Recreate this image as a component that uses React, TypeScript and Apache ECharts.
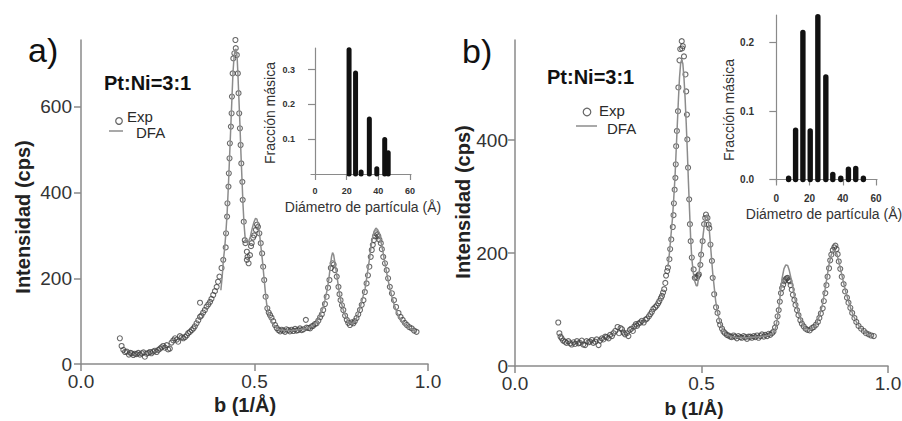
import React, { useEffect, useRef } from 'react';
import * as echarts from 'echarts';

// ---------- Panel a: experimental points (b, intensity) ----------
const expA: number[][] = [
  [0.112, 60], [0.117, 42], [0.122, 33], [0.127, 28], [0.132, 29], [0.138, 22], [0.142, 26], [0.146, 25],
  [0.151, 21], [0.155, 24], [0.160, 23], [0.165, 26], [0.170, 22], [0.175, 25], [0.180, 27], [0.184, 17],
  [0.189, 24], [0.194, 26], [0.199, 28], [0.203, 25], [0.208, 29], [0.213, 31], [0.218, 28], [0.223, 33],
  [0.228, 36], [0.232, 39], [0.237, 42], [0.242, 38], [0.247, 44], [0.251, 34], [0.256, 36], [0.261, 50],
  [0.266, 55], [0.271, 60], [0.276, 57], [0.280, 52], [0.285, 65], [0.290, 62], [0.295, 60], [0.300, 63],
  [0.305, 67], [0.309, 72], [0.314, 75], [0.319, 79], [0.324, 83], [0.328, 88], [0.333, 95], [0.338, 102],
  [0.343, 143], [0.343, 110], [0.347, 113], [0.352, 120], [0.357, 126], [0.362, 134], [0.367, 139], [0.372, 145],
  [0.376, 152], [0.381, 161], [0.386, 170], [0.391, 180], [0.395, 192], [0.399, 204], [0.405, 224], [0.410, 243],
  [0.417, 272], [0.418, 305], [0.421, 344], [0.422, 375], [0.425, 414], [0.426, 445], [0.428, 480], [0.429, 515],
  [0.432, 554], [0.434, 585], [0.435, 624], [0.437, 678], [0.439, 713], [0.442, 725], [0.445, 756], [0.446, 737],
  [0.449, 721], [0.452, 678], [0.454, 632], [0.456, 585], [0.458, 550], [0.460, 511], [0.462, 468], [0.465, 425],
  [0.466, 383], [0.469, 332], [0.472, 289], [0.474, 282], [0.478, 262], [0.478, 243], [0.480, 250], [0.483, 235],
  [0.487, 254], [0.490, 275], [0.492, 282], [0.496, 295], [0.499, 300], [0.504, 313], [0.507, 325], [0.510, 320],
  [0.514, 305], [0.518, 282], [0.522, 258], [0.525, 227], [0.528, 196], [0.532, 157], [0.537, 130], [0.541, 120],
  [0.545, 114], [0.549, 108], [0.554, 100], [0.559, 91], [0.564, 84], [0.569, 79], [0.574, 76], [0.578, 80],
  [0.583, 78], [0.588, 75], [0.592, 81], [0.597, 79], [0.602, 76], [0.607, 80], [0.612, 77], [0.617, 82],
  [0.621, 78], [0.626, 79], [0.631, 83], [0.636, 79], [0.641, 81], [0.648, 103], [0.650, 85], [0.655, 84],
  [0.660, 83], [0.665, 88], [0.669, 89], [0.674, 93], [0.679, 95], [0.684, 101], [0.689, 109], [0.694, 116],
  [0.698, 126], [0.703, 140], [0.708, 157], [0.712, 178], [0.716, 196], [0.720, 224], [0.725, 235], [0.728, 232],
  [0.732, 219], [0.737, 204], [0.742, 180], [0.745, 163], [0.748, 149], [0.752, 137], [0.756, 126], [0.761, 113],
  [0.766, 103], [0.770, 96], [0.775, 91], [0.780, 97], [0.785, 95], [0.789, 100], [0.794, 107], [0.799, 116],
  [0.804, 126], [0.809, 138], [0.814, 149], [0.818, 168], [0.823, 188], [0.827, 207], [0.831, 227], [0.835, 250],
  [0.838, 266], [0.841, 278], [0.844, 289], [0.847, 298], [0.850, 305], [0.854, 302], [0.857, 298], [0.860, 290],
  [0.864, 282], [0.867, 268], [0.871, 250], [0.876, 235], [0.881, 219], [0.885, 200], [0.890, 180], [0.896, 165],
  [0.902, 149], [0.908, 133], [0.915, 119], [0.921, 110], [0.927, 103], [0.933, 96], [0.939, 91], [0.946, 86],
  [0.953, 83], [0.960, 78], [0.967, 75],
];

// ---------- Panel a: DFA fit ----------
const dfaA: number[][] = [
  [0.403, 172], [0.407, 205], [0.410, 240], [0.414, 270], [0.417, 300], [0.421, 350], [0.425, 420], [0.428, 480],
  [0.432, 560], [0.435, 620], [0.438, 680], [0.441, 715], [0.444, 733], [0.447, 735], [0.450, 715], [0.452, 680],
  [0.455, 620], [0.458, 560], [0.461, 490], [0.464, 430], [0.467, 370], [0.470, 325], [0.473, 295], [0.476, 284],
  [0.480, 283], [0.484, 288], [0.488, 297], [0.493, 315], [0.498, 330], [0.503, 340], [0.507, 338], [0.511, 325],
  [0.515, 300], [0.519, 270], [0.523, 240], [0.527, 205], [0.531, 170], [0.535, 140], [0.540, 118], [0.546, 103],
  [0.554, 93], [0.562, 85], [0.572, 80], [0.590, 78], [0.610, 78], [0.630, 80], [0.650, 83], [0.665, 88],
  [0.678, 97], [0.689, 114], [0.697, 130], [0.703, 149], [0.709, 172], [0.714, 196], [0.718, 225], [0.722, 250],
  [0.725, 260], [0.728, 255], [0.732, 235], [0.737, 208], [0.742, 180], [0.746, 157], [0.751, 140], [0.756, 126],
  [0.763, 110], [0.771, 99], [0.781, 93], [0.790, 100], [0.797, 112], [0.804, 130], [0.811, 152], [0.819, 177],
  [0.825, 210], [0.831, 243], [0.836, 275], [0.841, 298], [0.846, 312], [0.850, 317], [0.855, 313], [0.860, 305],
  [0.865, 283], [0.871, 258], [0.877, 230], [0.883, 204], [0.889, 180], [0.896, 157], [0.903, 137], [0.911, 119],
  [0.918, 108], [0.925, 99], [0.932, 92], [0.939, 87], [0.950, 82], [0.960, 78], [0.967, 75],
];

// ---------- Panel b: experimental points ----------
const expB: number[][] = [
  [0.116, 77], [0.119, 58], [0.122, 52], [0.125, 49], [0.129, 45], [0.134, 43], [0.138, 41], [0.143, 44],
  [0.148, 40], [0.152, 38], [0.157, 42], [0.161, 39], [0.166, 44], [0.170, 40], [0.174, 41], [0.179, 45],
  [0.183, 38], [0.188, 37], [0.192, 44], [0.197, 42], [0.201, 43], [0.206, 46], [0.210, 41], [0.215, 43],
  [0.219, 47], [0.224, 37], [0.228, 45], [0.233, 49], [0.237, 47], [0.242, 52], [0.246, 51], [0.251, 49],
  [0.255, 55], [0.260, 53], [0.264, 58], [0.269, 62], [0.275, 69], [0.279, 58], [0.283, 67], [0.287, 65],
  [0.291, 59], [0.295, 56], [0.300, 58], [0.304, 53], [0.308, 64], [0.312, 66], [0.316, 62], [0.320, 70],
  [0.324, 74], [0.327, 71], [0.331, 75], [0.336, 77], [0.340, 80], [0.345, 77], [0.350, 82], [0.354, 84],
  [0.359, 88], [0.363, 92], [0.367, 96], [0.371, 101], [0.376, 104], [0.380, 107], [0.384, 111], [0.387, 115],
  [0.391, 120], [0.394, 124], [0.397, 130], [0.400, 136], [0.403, 147], [0.405, 160], [0.408, 168], [0.410, 174],
  [0.414, 189], [0.416, 207], [0.419, 224], [0.423, 246], [0.425, 267], [0.426, 288], [0.428, 312], [0.430, 333],
  [0.431, 357], [0.432, 389], [0.434, 416], [0.437, 451], [0.438, 493], [0.441, 541], [0.443, 561], [0.447, 575],
  [0.448, 562], [0.450, 566], [0.453, 548], [0.457, 516], [0.459, 486], [0.461, 445], [0.462, 401], [0.464, 351],
  [0.467, 295], [0.469, 251], [0.471, 221], [0.474, 192], [0.479, 171], [0.482, 156], [0.485, 158], [0.488, 156],
  [0.491, 160], [0.493, 162], [0.497, 179], [0.499, 197], [0.503, 221], [0.507, 251], [0.510, 262], [0.512, 268],
  [0.516, 262], [0.519, 250], [0.521, 244], [0.524, 215], [0.528, 186], [0.530, 156], [0.534, 127], [0.539, 104],
  [0.543, 94], [0.547, 80], [0.550, 73], [0.555, 66], [0.559, 61], [0.563, 58], [0.568, 55], [0.572, 54],
  [0.577, 52], [0.581, 51], [0.586, 54], [0.590, 52], [0.595, 49], [0.599, 53], [0.604, 51], [0.608, 50],
  [0.613, 53], [0.617, 51], [0.622, 48], [0.626, 52], [0.631, 52], [0.635, 50], [0.640, 53], [0.644, 51],
  [0.649, 54], [0.653, 50], [0.658, 53], [0.662, 56], [0.667, 52], [0.671, 55], [0.676, 53], [0.680, 57],
  [0.684, 55], [0.689, 58], [0.693, 61], [0.697, 68], [0.701, 76], [0.704, 88], [0.707, 99], [0.710, 114],
  [0.713, 129], [0.716, 138], [0.719, 144], [0.722, 150], [0.725, 153], [0.728, 155], [0.731, 156], [0.734, 152],
  [0.736, 150], [0.739, 143], [0.742, 135], [0.745, 126], [0.749, 117], [0.752, 108], [0.756, 99], [0.760, 90],
  [0.765, 81], [0.769, 75], [0.774, 70], [0.779, 66], [0.784, 64], [0.790, 63], [0.796, 67], [0.801, 69],
  [0.807, 73], [0.812, 78], [0.816, 85], [0.820, 93], [0.825, 102], [0.828, 115], [0.832, 129], [0.835, 143],
  [0.838, 158], [0.842, 173], [0.845, 187], [0.848, 197], [0.852, 205], [0.856, 210], [0.859, 213], [0.862, 207],
  [0.865, 198], [0.868, 185], [0.872, 172], [0.876, 158], [0.881, 145], [0.885, 132], [0.890, 121], [0.894, 112],
  [0.899, 103], [0.904, 94], [0.910, 85], [0.915, 78], [0.921, 71], [0.928, 66], [0.935, 62], [0.941, 58],
  [0.948, 56], [0.955, 54], [0.962, 53],
];

// ---------- Panel b: DFA fit ----------
const dfaB: number[][] = [
  [0.410, 175], [0.414, 200], [0.418, 230], [0.422, 260], [0.425, 290], [0.429, 335], [0.432, 380], [0.435, 425],
  [0.438, 470], [0.441, 510], [0.444, 535], [0.447, 542], [0.450, 535], [0.453, 510], [0.456, 475], [0.459, 430],
  [0.462, 380], [0.465, 325], [0.468, 275], [0.471, 225], [0.474, 190], [0.478, 165], [0.482, 150], [0.486, 142],
  [0.489, 142], [0.492, 155], [0.496, 180], [0.500, 205], [0.504, 230], [0.508, 252], [0.512, 265], [0.515, 268],
  [0.518, 260], [0.521, 240], [0.524, 215], [0.527, 190], [0.530, 165], [0.534, 140], [0.538, 115], [0.543, 95],
  [0.549, 78], [0.556, 66], [0.565, 57], [0.580, 52], [0.600, 50], [0.620, 50], [0.640, 51], [0.660, 52],
  [0.680, 54], [0.690, 57], [0.697, 64], [0.702, 78], [0.707, 100], [0.711, 125], [0.716, 155], [0.721, 172],
  [0.726, 179], [0.731, 178], [0.735, 170], [0.740, 155], [0.745, 138], [0.750, 120], [0.756, 103], [0.763, 87],
  [0.770, 76], [0.778, 68], [0.786, 64], [0.794, 65], [0.802, 70], [0.810, 78], [0.817, 90], [0.824, 108],
  [0.830, 130], [0.836, 155], [0.842, 180], [0.848, 197], [0.853, 204], [0.858, 205], [0.863, 198], [0.868, 185],
  [0.874, 168], [0.880, 150], [0.886, 133], [0.893, 117], [0.900, 102], [0.908, 88], [0.916, 77], [0.925, 68],
  [0.935, 61], [0.945, 56], [0.955, 53], [0.962, 52],
];

// ---------- Insets: particle diameter (Å) vs mass fraction ----------
const insetADiam = [21.5, 25.6, 29.1, 34.3, 39.0, 44.0, 46.2];
const insetAFrac = [0.357, 0.290, 0.006, 0.158, 0.015, 0.099, 0.061];
const insetBDiam = [7.4, 11.6, 16.0, 20.4, 25.0, 29.8, 34.0, 38.8, 43.4, 47.8, 52.4];
const insetBFrac = [0.002, 0.072, 0.215, 0.071, 0.238, 0.150, 0.0075, 0.002, 0.015, 0.016, 0.002];

// ---------- Tick values ----------
const mainXTicks = [0, 0.5, 1];
const mainAYTicks = [0, 200, 400, 600];
const mainBYTicks = [0, 200, 400];
const insetXTicks = [0, 20, 40, 60];
const insetAYTicks = [0.1, 0.2, 0.3];
const insetBYTicks = [0, 0.1, 0.2];

const FONT = '"Liberation Sans", Arial, Helvetica, sans-serif';
const AXIS_COLOR = '#8a8a8a';
const TEXT_COLOR = '#2a2a2a';

export default function App() {
  const ref = useRef<HTMLDivElement>(null);

  useEffect(() => {
    if (!ref.current) return;
    const chart = echarts.init(ref.current, null, { renderer: 'svg' });

    const axisLine = { show: true, lineStyle: { color: AXIS_COLOR, width: 1.5 } };

    const mainX = (gridIndex: number, margin: number) => ({
      type: 'value', gridIndex, min: 0, max: 1,
      axisLine,
      axisTick: { show: true, length: 7, customValues: mainXTicks, lineStyle: { color: AXIS_COLOR, width: 1.5 } },
      axisLabel: {
        customValues: mainXTicks, margin, fontSize: 19, fontFamily: FONT, color: '#333',
        formatter: (v: number) => v.toFixed(1),
      },
      splitLine: { show: false },
    });
    const mainY = (gridIndex: number, max: number, ticks: number[], margin: number) => ({
      type: 'value', gridIndex, min: 0, max,
      axisLine,
      axisTick: { show: true, length: 7, customValues: ticks, lineStyle: { color: AXIS_COLOR, width: 1.5 } },
      axisLabel: { customValues: ticks, margin, fontSize: 19, fontFamily: FONT, color: '#333' },
      splitLine: { show: false },
    });
    const insetX = (gridIndex: number, min: number, margin: number, fs: number) => ({
      type: 'value', gridIndex, min, max: 60.6,
      axisLine: { show: true, lineStyle: { color: AXIS_COLOR, width: 1.2 } },
      axisTick: { show: true, length: 6, customValues: insetXTicks, lineStyle: { color: AXIS_COLOR, width: 1.2 } },
      axisLabel: { customValues: insetXTicks, margin, fontSize: fs, fontWeight: 'bold', fontFamily: FONT, color: '#333' },
      splitLine: { show: false },
    });
    const insetY = (gridIndex: number, min: number, max: number, ticks: number[], margin: number, fs: number) => ({
      type: 'value', gridIndex, min, max,
      axisLine: { show: true, lineStyle: { color: AXIS_COLOR, width: 1.2 } },
      axisTick: { show: true, length: 7, customValues: ticks, lineStyle: { color: AXIS_COLOR, width: 1.2 } },
      axisLabel: {
        customValues: ticks, margin, fontSize: fs, fontWeight: 'bold', fontFamily: FONT, color: '#333',
        formatter: (v: number) => v.toFixed(1),
      },
      splitLine: { show: false },
    });

    const barRender = (lw: number) => (params: any, api: any) => {
      const x = api.value(0);
      const v = api.value(1);
      const p0 = api.coord([x, 0]);
      const p1 = api.coord([x, v]);
      return {
        type: 'line',
        shape: { x1: p0[0], y1: p0[1], x2: p1[0], y2: p1[1] },
        style: { stroke: '#111', lineWidth: lw, lineCap: 'round' },
      };
    };

    const scatterStyle = {
      type: 'scatter', symbol: 'circle', symbolSize: 5,
      itemStyle: { color: 'rgba(0,0,0,0)', borderColor: '#444', borderWidth: 1.1 },
    };
    const lineStyle = {
      type: 'line', showSymbol: false, symbol: 'none',
      lineStyle: { color: '#8c8c8c', width: 1.5 },
    };

    const txt = (x: number, y: number, text: string, fontSize: number, opts: any = {}) => ({
      type: 'text', x, y, rotation: opts.rotation || 0,
      style: {
        text, fontSize, fontFamily: FONT, fontWeight: opts.bold ? 'bold' : 'normal',
        fill: opts.fill || TEXT_COLOR, align: opts.align || 'left', verticalAlign: 'middle',
      },
    });

    chart.setOption({
      animation: false,
      backgroundColor: '#fff',
      grid: [
        { left: 81, top: 40, width: 347, height: 324, outerBoundsMode: 'none' },
        { left: 311, top: 48, width: 100, height: 126, outerBoundsMode: 'none' },
        { left: 515, top: 40, width: 373, height: 326, outerBoundsMode: 'none' },
        { left: 772, top: 15, width: 105, height: 167, outerBoundsMode: 'none' },
      ],
      xAxis: [
        mainX(0, 8),
        insetX(1, -2.53, 12, 9),
        mainX(2, 8),
        insetX(3, -2.6, 11, 10),
      ],
      yAxis: [
        mainY(0, 756, mainAYTicks, 9),
        insetY(1, 0, 0.362, insetAYTicks, 16, 9),
        mainY(2, 577, mainBYTicks, 7),
        insetY(3, -0.0037, 0.2405, insetBYTicks, 18, 10),
      ],
      series: [
        { ...scatterStyle, xAxisIndex: 0, yAxisIndex: 0, data: expA },
        { ...lineStyle, xAxisIndex: 0, yAxisIndex: 0, data: dfaA },
        {
          type: 'custom', xAxisIndex: 1, yAxisIndex: 1, renderItem: barRender(5),
          data: insetADiam.map((d, i) => [d, insetAFrac[i]]),
        },
        { ...scatterStyle, xAxisIndex: 2, yAxisIndex: 2, data: expB },
        { ...lineStyle, xAxisIndex: 2, yAxisIndex: 2, data: dfaB },
        {
          type: 'custom', xAxisIndex: 3, yAxisIndex: 3, renderItem: barRender(5.4),
          data: insetBDiam.map((d, i) => [d, insetBFrac[i]]),
        },
      ],
      graphic: [
        txt(28, 50, 'a)', 34, { fill: '#111' }),
        txt(462, 51, 'b)', 34, { fill: '#111' }),
        txt(104, 83, 'Pt:Ni=3:1', 20, { bold: true, fill: '#111' }),
        txt(547, 77, 'Pt:Ni=3:1', 20, { bold: true, fill: '#111' }),
        // legend a
        { type: 'circle', shape: { cx: 119, cy: 121, r: 3.3 }, style: { fill: 'none', stroke: '#666', lineWidth: 1.2 } },
        txt(127, 116, 'Exp', 15),
        { type: 'line', shape: { x1: 109, y1: 131, x2: 123, y2: 131 }, style: { stroke: '#8c8c8c', lineWidth: 1.5 } },
        txt(136, 132, 'DFA', 15),
        // legend b
        { type: 'circle', shape: { cx: 587, cy: 112, r: 3.8 }, style: { fill: 'none', stroke: '#666', lineWidth: 1.2 } },
        txt(599, 110, 'Exp', 15),
        { type: 'line', shape: { x1: 576, y1: 126, x2: 597, y2: 126 }, style: { stroke: '#8c8c8c', lineWidth: 1.5 } },
        txt(607, 128, 'DFA', 15),
        // main axis titles
        txt(23, 217, 'Intensidad (cps)', 20, { bold: true, align: 'center', rotation: Math.PI / 2, fill: '#222' }),
        txt(463, 202, 'Intensidad (cps)', 20, { bold: true, align: 'center', rotation: Math.PI / 2, fill: '#222' }),
        txt(245, 405, 'b (1/Å)', 20, { bold: true, align: 'center', fill: '#222' }),
        txt(694, 408, 'b (1/Å)', 19, { bold: true, align: 'center', fill: '#222' }),
        // inset titles
        txt(270, 113, 'Fracción másica', 14, { align: 'center', rotation: Math.PI / 2, fill: '#333' }),
        txt(729, 110, 'Fracción másica', 14, { align: 'center', rotation: Math.PI / 2, fill: '#333' }),
        txt(363, 207, 'Diámetro de partícula (Å)', 14, { align: 'center', fill: '#333' }),
        txt(824, 214, 'Diámetro de partícula (Å)', 14, { align: 'center', fill: '#333' }),
      ],
    });

    return () => chart.dispose();
  }, []);

  return (
    <div
      ref={ref}
      style={{ position: 'fixed', left: 0, top: 0, width: 902, height: 421, background: '#fff' }}
    />
  );
}
